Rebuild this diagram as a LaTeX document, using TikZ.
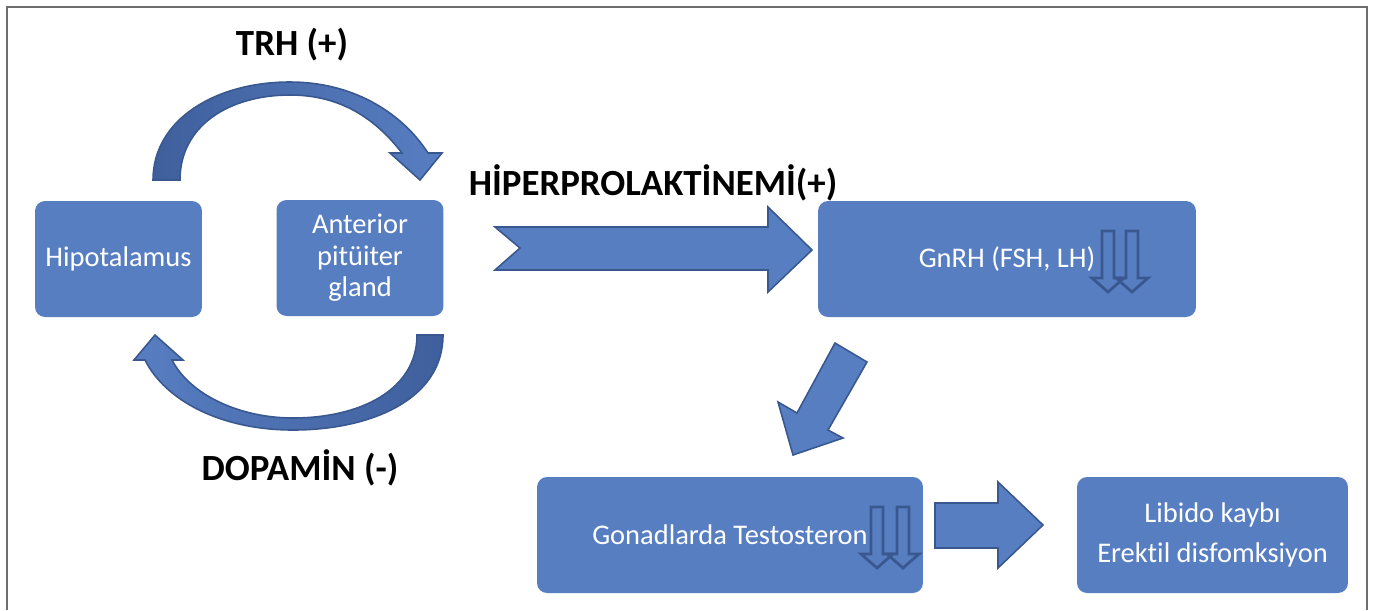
\documentclass[tikz,border=0pt]{standalone}
\usepackage{fontspec}
\setmainfont{Carlito}[Ligatures=NoCommon]
\usepackage{tikz}
\usetikzlibrary{arrows.meta,positioning,calc}
\definecolor{boxblue}{HTML}{587EC2}
\definecolor{arcdark}{HTML}{3F5F9C}
\definecolor{edgeblue}{HTML}{3A5890}
\definecolor{framegray}{HTML}{6E6E6E}
\newcommand{\dnarrow}[2]{\draw[dnline] (#1-6,#2)--(#1+6,#2)--(#1+6,#2+47)--(#1+16,#2+47)--(#1,#2+61)--(#1-16,#2+47)--(#1-6,#2+47)--cycle;}

\begin{document}
\begin{tikzpicture}[x=0.02cm,y=-0.02cm,
  blk/.style={fill=boxblue,rounded corners=0.2cm,text=white,font=\fontsize{16.2}{18}\selectfont,align=center,inner sep=0pt},
  blockarrow/.style={fill=boxblue,draw=edgeblue,line width=0.9pt,line join=miter},
  dnline/.style={draw=edgeblue,line width=1.6pt},
  lbl/.style={font=\bfseries\fontsize{21}{24}\selectfont}]
\useasboundingbox (0,0) rectangle (1373,610);
\draw[framegray,line width=1.2pt] (7,610)--(7,7)--(1367,7)--(1367,610);
\node[blk,minimum width=3.34cm,minimum height=2.32cm] (hypo) at (118.5,259) {Hipotalamus};
\node[blk,minimum width=3.34cm,minimum height=2.32cm] (ant) at (360,258) {Anterior\\pitüiter\\gland};
\node[blk,minimum width=7.56cm,minimum height=2.32cm] (gnrh) at (1007,259) {GnRH (FSH, LH)};
\node[blk,minimum width=7.72cm,minimum height=2.32cm] (gonad) at (730,535) {Gonadlarda Testosteron};
\node[blk,minimum width=5.42cm,minimum height=2.32cm] (libido) at (1212.5,535) {Libido kaybı\\[4.7pt]Erektil disfomksiyon};
\draw[blockarrow,left color=arcdark,right color=boxblue] (153,180) .. controls (153,120) and (215,82) .. (290,82) .. controls (350,82) and (400,110) .. (428,153)
  -- (442,153) -- (420,180) -- (390,153) -- (402,153) .. controls (375,118) and (340,95) .. (290,95) .. controls (230,95) and (180,125) .. (180,180) -- cycle;
\draw[blockarrow,left color=boxblue,right color=arcdark] (443,335) .. controls (443,400) and (370,430) .. (293,430) .. controls (220,430) and (165,400) .. (145,360)
  -- (134,360) -- (155,335) -- (183,360) -- (172,360) .. controls (190,395) and (240,418) .. (293,418) .. controls (360,418) and (417,390) .. (417,335) -- cycle;
\draw[blockarrow] (495,227)--(768,227)--(768,207)--(812,250)--(768,292)--(768,270)--(495,270)--(520,248)--cycle;
\draw[blockarrow] (835,343)--(867,362)--(828,430)--(843,438)--(793,455)--(778,402)--(797,413)--cycle;
\draw[blockarrow] (935,503)--(998,503)--(998,482)--(1043,525)--(998,568)--(998,548)--(935,548)--cycle;
\foreach \x in {1108,1132} {\dnarrow{\x}{231}}
\foreach \x in {877,903} {\dnarrow{\x}{507}}
\node[lbl] (trh) at (292,45) {TRH (+)};
\node[lbl] (dop) at (300,468) {DOPAMİN (-)};
\node[lbl] (hiper) at (653,183) {HİPERPROLAKTİNEMİ(+)};
\end{tikzpicture}
\end{document}
